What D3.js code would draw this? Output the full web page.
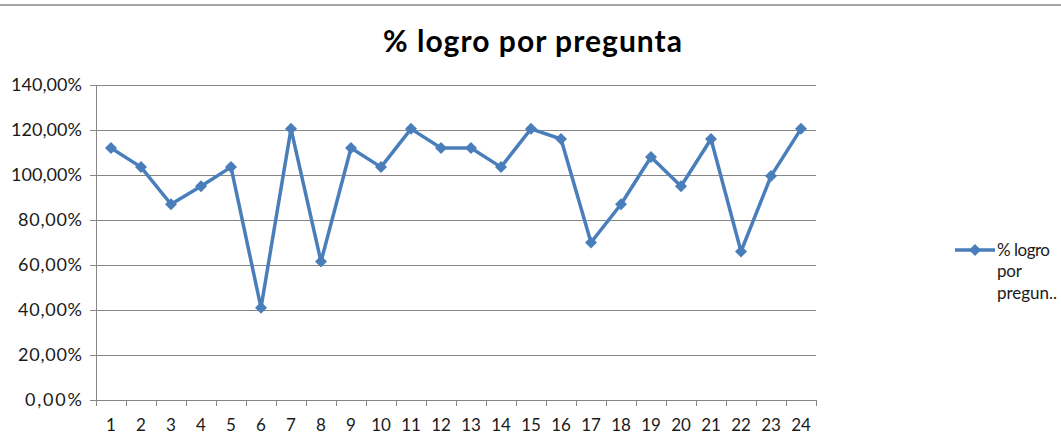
<!DOCTYPE html>
<html><head><meta charset="utf-8">
<script src="https://cdn.jsdelivr.net/npm/d3@7"></script>
<style>body{margin:0;background:#fff;}svg{display:block;}</style>
</head><body>
<script>
const categories = ["1","2","3","4","5","6","7","8","9","10","11","12","13","14","15","16","17","18","19","20","21","22","23","24"];
const values = [112, 103.5, 87, 95, 103.5, 41, 120.5, 61.5, 112, 103.5, 120.5, 112, 112, 103.5, 120.5, 116, 70, 87, 108, 95, 116, 66, 99.5, 120.5];
const yTicks = [0, 20, 40, 60, 80, 100, 120, 140];
const title = "% logro por pregunta";
const legendLines = ["% logro", "por", "pregun.."];

(function () {
const W = 1061, H = 446;
const svg = d3.select("body").append("svg").attr("width", W).attr("height", H);
svg.append("rect").attr("width", W).attr("height", H).attr("fill", "#fff");
svg.append("line").attr("x1", 0).attr("x2", W).attr("y1", 5).attr("y2", 5).attr("stroke", "#a6a6a6").attr("stroke-width", 2);

const pLeft = 96, pRight = 816, pTop = 85, pBottom = 400;
const x = d3.scaleBand().domain(categories).range([pLeft, pRight]);
const y = d3.scaleLinear().domain([0, 140]).range([pBottom, pTop]);
const font = "Lato, 'Open Sans', sans-serif";
const fs = 17;

// gridlines
svg.append("g").selectAll("line").data(yTicks.filter(d => d > 0)).join("line")
  .attr("x1", pLeft).attr("x2", pRight).attr("y1", d => Math.round(y(d)) + 0.5).attr("y2", d => Math.round(y(d)) + 0.5)
  .attr("stroke", "#868686").attr("stroke-width", 1);

// y axis
const yAxis = svg.append("g").attr("transform", `translate(${pLeft},0)`)
  .call(d3.axisLeft(y).tickValues(yTicks).tickSize(6).tickPadding(8)
    .tickFormat(d => d3.format(".2f")(d).replace(".", ",") + "%"));
yAxis.select(".domain").attr("stroke", "#868686");
yAxis.selectAll(".tick line").attr("stroke", "#868686");
yAxis.selectAll("text").attr("font-family", font).attr("font-size", 18).attr("fill", "#1a1a1a")
  .attr("lengthAdjust", "spacing")
  .attr("textLength", function () { return 71 - 7 * (7 - this.textContent.length); });

// x axis
const xAxis = svg.append("g").attr("transform", `translate(0,${pBottom})`)
  .call(d3.axisBottom(x).tickSize(0).tickPadding(19));
xAxis.select(".domain").attr("stroke", "#868686");
xAxis.selectAll("text").attr("font-family", font).attr("font-size", fs).attr("fill", "#1a1a1a");
svg.append("g").selectAll("line").data(categories.concat(["end"])).join("line")
  .attr("x1", (d, i) => Math.round(pLeft + i * x.bandwidth()) + 0.5).attr("x2", (d, i) => Math.round(pLeft + i * x.bandwidth()) + 0.5)
  .attr("y1", pBottom).attr("y2", pBottom + 6).attr("stroke", "#868686");

// line
const color = "#4a7ebb";
const line = d3.line().x((d, i) => x(categories[i]) + x.bandwidth() / 2).y(d => y(d));
svg.append("path").datum(values).attr("d", line).attr("fill", "none")
  .attr("stroke", color).attr("stroke-width", 3.5).attr("stroke-linejoin", "round");
const marker = d3.symbol().type(d3.symbolSquare).size(72);
svg.append("g").selectAll("path").data(values).join("path")
  .attr("d", marker).attr("fill", color)
  .attr("transform", (d, i) => `translate(${x(categories[i]) + x.bandwidth() / 2},${y(d)}) rotate(45)`);

// title
svg.append("text").attr("x", 383).attr("y", 52)
  .attr("font-family", font).attr("font-weight", "bold").attr("font-size", 30).attr("fill", "#000")
  .attr("textLength", 299).attr("lengthAdjust", "spacing").text(title);

// legend
svg.append("line").attr("x1", 955).attr("x2", 995).attr("y1", 250).attr("y2", 250).attr("stroke", color).attr("stroke-width", 3.5);
svg.append("path").attr("d", marker).attr("fill", color).attr("transform", "translate(975,250) rotate(45)");
const legendWidths = [53, 25, 60];
svg.append("g").selectAll("text").data(legendLines).join("text")
  .attr("x", 997).attr("y", (d, i) => 255.5 + i * 21.5)
  .attr("font-family", font).attr("font-size", fs).attr("fill", "#1a1a1a")
  .attr("textLength", (d, i) => legendWidths[i]).attr("lengthAdjust", "spacing").text(d => d);
})();
</script>
</body></html>
